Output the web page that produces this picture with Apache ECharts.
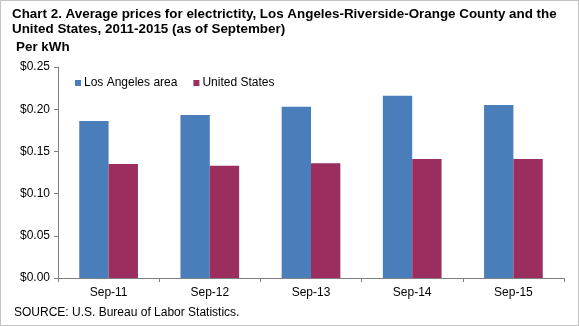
<!DOCTYPE html>
<html><head><meta charset="utf-8">
<script src="https://cdn.jsdelivr.net/npm/echarts@6/dist/echarts.min.js"></script>
<style>html,body{margin:0;padding:0;background:#fff}#c{width:579px;height:326px}</style>
</head><body><div id="c"></div>
<script>
const categories = ['Sep-11','Sep-12','Sep-13','Sep-14','Sep-15'];
const laArea = [0.186, 0.193, 0.203, 0.216, 0.205];
const unitedStates = [0.135, 0.133, 0.136, 0.141, 0.141];
const seriesNames = ['Los Angeles area', 'United States'];

const chart = echarts.init(document.getElementById('c'), null, {renderer:'canvas'});
const F = 'Liberation Sans, Arial, sans-serif';
chart.setOption({
  animation:false,
  textStyle:{fontFamily:F},
  grid:{left:58, right:15, top:67, bottom:48},
  legend:{
    left:70, top:72, itemWidth:6, itemHeight:6, itemGap:16,
    icon:'rect',
    textStyle:{fontFamily:F, fontSize:12, color:'#000', padding:[0,0,0,-2]},
    data:seriesNames
  },
  xAxis:{
    type:'category', data:categories,
    axisLine:{lineStyle:{color:'#808080'}},
    axisTick:{show:true, length:4, lineStyle:{color:'#808080'}},
    axisLabel:{color:'#000', fontSize:12, margin:9, fontFamily:F}
  },
  yAxis:{
    type:'value', min:0, max:0.25, interval:0.05,
    axisLine:{show:true, lineStyle:{color:'#808080'}},
    axisTick:{show:true, length:4, lineStyle:{color:'#808080'}},
    splitLine:{show:false},
    axisLabel:{color:'#000', fontSize:12, margin:8, fontFamily:F,
      formatter:v=>'$'+v.toFixed(2)}
  },
  series:[
    {name:seriesNames[0], type:'bar', data:laArea, barGap:'0%', barCategoryGap:'42%',
     itemStyle:{color:'#4A7EBB'}},
    {name:seriesNames[1], type:'bar', data:unitedStates,
     itemStyle:{color:'#9B2D5F'}}
  ],
  graphic:[
    {type:'rect', shape:{x:0.5,y:0.5,width:578,height:325},
     style:{fill:null, stroke:'#888', lineWidth:1, lineDash:[1,1]}},
    {type:'text', left:12, top:7, style:{text:'Chart 2. Average prices for electrictity, Los Angeles-Riverside-Orange County and the\nUnited States, 2011-2015 (as of September)',
      font:'bold 13.4px "Liberation Sans Narrow", Arial Narrow, sans-serif', fill:'#000', lineHeight:15}},
    {type:'text', left:16, top:41, style:{text:'Per kWh', font:'bold 13.4px "Liberation Sans Narrow", sans-serif', fill:'#000'}},
    {type:'text', left:14, top:307, style:{text:'SOURCE: U.S. Bureau of Labor Statistics.', font:'12px '+F, fill:'#000'}}
  ]
});
</script></body></html>
